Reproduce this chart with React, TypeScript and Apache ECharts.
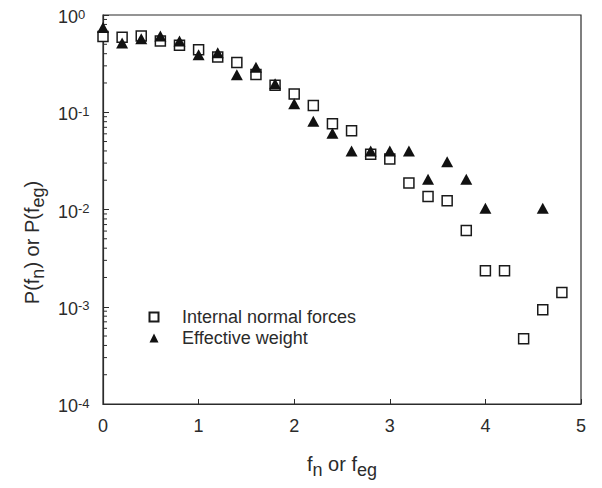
import React, { useEffect, useRef } from "react";
import * as echarts from "echarts";

const xNormal = [0, 0.2, 0.4, 0.6, 0.8, 1.0, 1.2, 1.4, 1.6, 1.8, 2.0, 2.2, 2.4, 2.6, 2.8, 3.0, 3.2, 3.4, 3.6, 3.8, 4.0, 4.2, 4.4, 4.6, 4.8];
const pNormal = [0.6, 0.59, 0.61, 0.54, 0.49, 0.44, 0.37, 0.325, 0.245, 0.19, 0.154, 0.117, 0.076, 0.0645, 0.037, 0.033, 0.0187, 0.0136, 0.0123, 0.0061, 0.00234, 0.00234, 0.00047, 0.00093, 0.0014];

const xWeight = [0, 0.2, 0.4, 0.6, 0.8, 1.0, 1.2, 1.4, 1.6, 1.8, 2.0, 2.2, 2.4, 2.6, 2.8, 3.0, 3.2, 3.4, 3.6, 3.8, 4.0, 4.6];
const pWeight = [0.745, 0.515, 0.57, 0.61, 0.54, 0.39, 0.41, 0.243, 0.29, 0.196, 0.122, 0.081, 0.061, 0.04, 0.04, 0.04, 0.04, 0.0205, 0.031, 0.0205, 0.0103, 0.0103];

const seriesNames = ["Internal normal forces", "Effective weight"];
const yDecades = [-4, -3, -2, -1, 0];
const minorMultipliers = [2, 3, 4, 5, 6, 7, 8, 9];

const FONT = "Arial, 'Liberation Sans', Helvetica, sans-serif";
const INK = "#2b2b2b";

export default function App() {
  const ref = useRef<HTMLDivElement>(null);
  useEffect(() => {
    if (!ref.current) return;
    const chart = echarts.init(ref.current, undefined, { renderer: "svg" });
    const minorTicks: number[][] = [];
    yDecades.slice(0, -1).forEach((d) => {
      minorMultipliers.forEach((m) => minorTicks.push([0, m * Math.pow(10, d)]));
    });
    const nameRich = {
      n: { fontSize: 20, color: INK, lineHeight: 31, fontFamily: FONT },
      s: { fontSize: 18, color: INK, lineHeight: 18, verticalAlign: "bottom", fontFamily: FONT },
    };
    chart.setOption({
      animation: false,
      textStyle: { fontFamily: FONT },
      grid: {
        left: 103,
        top: 15,
        right: 21,
        bottom: 84,
        show: true,
        borderColor: INK,
        borderWidth: 1.2,
        backgroundColor: "transparent",
      },
      legend: {
        data: seriesNames,
        orient: "vertical",
        left: 148.5,
        top: 308,
        padding: 0,
        itemWidth: 9,
        itemHeight: 9,
        itemGap: 3,
        textStyle: { fontSize: 18, lineHeight: 18, color: INK, fontFamily: FONT, padding: [0, 0, 0, 18.5] },
      },
      xAxis: {
        type: "value",
        min: 0,
        max: 5,
        interval: 1,
        axisLine: { show: true, lineStyle: { color: INK, width: 1.2 } },
        axisTick: { show: true, inside: true, length: 5, lineStyle: { color: INK } },
        splitLine: { show: false },
        axisLabel: { fontSize: 18, color: INK, margin: 13, fontFamily: FONT },
        name: "{n|f}{s|n}{n| or f}{s|eg}",
        nameLocation: "middle",
        nameGap: 44,
        nameTextStyle: { fontFamily: FONT, rich: nameRich },
      },
      yAxis: {
        type: "log",
        logBase: 10,
        min: 0.0001,
        max: 1,
        interval: 1,
        axisLine: { show: true, lineStyle: { color: INK, width: 1.2 } },
        axisTick: { show: true, inside: true, length: 6, lineStyle: { color: INK } },
        splitLine: { show: false },
        axisLabel: {
          margin: 45,
          align: "left",
          padding: [4, 0, 0, 0],
          formatter: (v: number) => `{b|10}{p|${Math.round(Math.log10(v))}}`,
          rich: {
            b: { fontSize: 18, color: INK, lineHeight: 19, fontFamily: FONT },
            p: { fontSize: 13, color: INK, lineHeight: 13, verticalAlign: "top", fontFamily: FONT },
          },
        },
        name: "{n|P(f}{s|n}{n|) or P(f}{s|eg}{n|)}",
        nameLocation: "middle",
        nameRotate: 90,
        nameGap: 55.5,
        nameTextStyle: { fontFamily: FONT, padding: [0, 66, 0, 0], rich: nameRich },
      },
      series: [
        {
          type: "custom",
          name: "minorTicks",
          silent: true,
          data: minorTicks,
          renderItem: (_p: any, api: any) => {
            const c = api.coord([0, api.value(1)]);
            return {
              type: "line",
              shape: { x1: c[0], y1: c[1], x2: c[0] + 4, y2: c[1] },
              style: { stroke: INK, lineWidth: 1 },
            };
          },
          z: 1,
        },
        {
          type: "scatter",
          name: seriesNames[0],
          data: xNormal.map((x, i) => [x, pNormal[i]]),
          symbol: "rect",
          symbolSize: 10,
          itemStyle: { color: "#ffffff", borderColor: "#1a1a1a", borderWidth: 1.5, opacity: 1 },
          z: 3,
        },
        {
          type: "scatter",
          name: seriesNames[1],
          data: xWeight.map((x, i) => [x, pWeight[i]]),
          symbol: "triangle",
          symbolSize: [12, 11],
          itemStyle: { color: "#111111", opacity: 1 },
          z: 4,
        },
      ],
    });
    return () => chart.dispose();
  }, []);
  return <div ref={ref} style={{ width: 602, height: 488, position: "absolute", left: 0, top: 0, background: "#fff" }} />;
}
